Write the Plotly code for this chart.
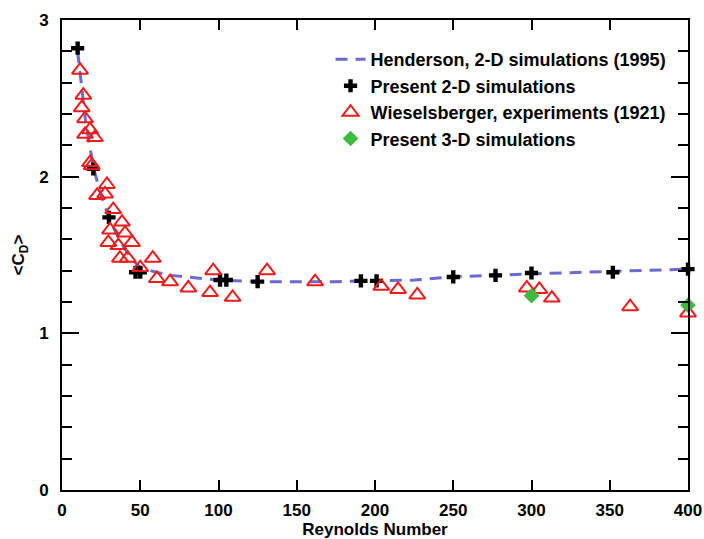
import plotly.graph_objects as go

# Henderson 2-D simulations (1995) - dashed curve
hend_re = [10, 15, 20, 25, 30, 35, 40, 45, 50, 60, 70, 80, 100, 125, 150, 175, 200, 225, 250, 275, 300, 350, 400]
hend_cd = [2.80, 2.36, 2.06, 1.88, 1.74, 1.63, 1.54, 1.47, 1.42, 1.39, 1.37, 1.36, 1.34, 1.33, 1.33, 1.33, 1.335, 1.34, 1.36, 1.37, 1.38, 1.395, 1.41]

# Present 2-D simulations
p2_re = [10, 20, 30, 47, 50, 101, 105, 125, 191, 201, 250, 277, 300, 352, 400]
p2_cd = [2.82, 2.05, 1.74, 1.39, 1.39, 1.34, 1.34, 1.33, 1.335, 1.335, 1.36, 1.37, 1.385, 1.39, 1.41]

# Wieselsberger experiments (1921)
w_re = [11.5, 13.6, 12.6, 14.7, 17.9, 14.7, 21, 17.9, 19, 28.7, 22.4, 27.5, 32.7, 38.3, 30.7, 40.3,
        29.6, 36, 44.7, 37, 42, 50, 58, 60.6, 69, 80.7, 96.6, 94.6, 109, 131, 161.7, 204, 214.7, 227,
        297, 305, 313, 363, 400]
w_cd = [2.68, 2.52, 2.44, 2.37, 2.30, 2.27, 2.25, 2.09, 2.07, 1.95, 1.88, 1.89, 1.79, 1.71, 1.66, 1.64,
        1.58, 1.56, 1.58, 1.48, 1.48, 1.42, 1.48, 1.35, 1.33, 1.29, 1.40, 1.26, 1.23, 1.40, 1.33, 1.30, 1.28, 1.245,
        1.29, 1.28, 1.225, 1.17, 1.13]

# Present 3-D simulations
p3_re = [300, 400]
p3_cd = [1.24, 1.18]

x_ticks = [0, 50, 100, 150, 200, 250, 300, 350, 400]
y_ticks = [0, 1, 2, 3]

fig = go.Figure()
fig.add_trace(go.Scatter(x=hend_re, y=hend_cd, mode="lines", name="Henderson, 2-D simulations (1995)",
                         line=dict(color="#6b6bcf", width=3, dash="12px,8px")))
fig.add_trace(go.Scatter(x=p2_re, y=p2_cd, mode="markers", name="Present 2-D simulations", cliponaxis=False,
                         marker=dict(symbol="cross", size=11, color="black")))
fig.add_trace(go.Scatter(x=w_re, y=w_cd, mode="markers", name="Wieselsberger, experiments (1921)", cliponaxis=False,
                         marker=dict(symbol="triangle-up-open", size=14, color="#ee1c1c",
                                     line=dict(width=2, color="#ee1c1c"))))
fig.add_trace(go.Scatter(x=p3_re, y=p3_cd, mode="markers", name="Present 3-D simulations", cliponaxis=False,
                         marker=dict(symbol="diamond", size=12, color="#3cbb3c")))

font_family = "Liberation Sans, Arial, sans-serif"
fig.update_layout(
    width=704, height=539,
    margin=dict(l=62, r=16, t=20, b=49),
    paper_bgcolor="white", plot_bgcolor="white",
    font=dict(family=font_family, size=17, color="black"),
    legend=dict(x=0.429, y=0.955, xanchor="left", yanchor="top", bgcolor="rgba(0,0,0,0)",
                font=dict(size=18, family=font_family, weight="bold"), tracegroupgap=0,
                itemwidth=30),
    showlegend=True,
)
fig.update_xaxes(
    range=[0, 400], tickvals=x_ticks, ticktext=[str(v) for v in x_ticks],
    ticks="inside", ticklen=10, tickwidth=2, tickcolor="black",
    showline=True, linewidth=2, linecolor="black", mirror="ticks",
    showgrid=False, zeroline=False, automargin=False,
    tickfont=dict(size=17, weight="bold"),
    ticklabelstandoff=4,
    title=dict(text="Reynolds Number", font=dict(size=17, weight="bold"), standoff=2),
)
fig.update_yaxes(
    range=[0, 3], tickvals=y_ticks, ticktext=[str(v) for v in y_ticks],
    ticks="inside", ticklen=17, tickwidth=2, tickcolor="black",
    minor=dict(dtick=0.2, ticks="inside", ticklen=10, tickwidth=2, tickcolor="black", showgrid=False),
    showline=True, linewidth=2, linecolor="black", mirror="ticks",
    showgrid=False, zeroline=False, automargin=False,
    tickfont=dict(size=17, weight="bold"),
    ticklabelstandoff=8,
    title=dict(text="&lt;C<sub>D</sub>&gt;", font=dict(size=17, weight="bold"), standoff=10),
)

fig.write_html("out.html")
